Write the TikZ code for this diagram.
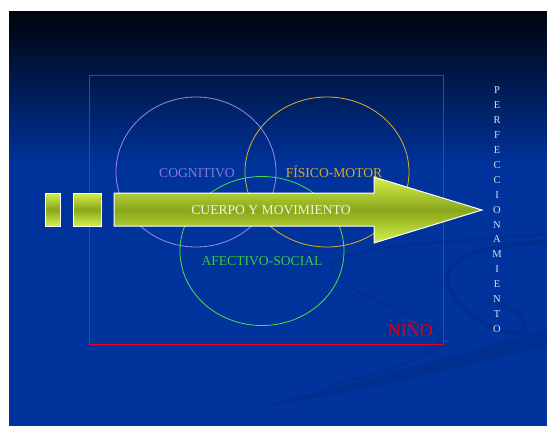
\documentclass[tikz,border=0pt]{standalone}
\usepackage{fontspec}
\setmainfont{Liberation Serif}
\usetikzlibrary{shapes.geometric}
\definecolor{bgblue}{HTML}{00339C}
\definecolor{topdark}{HTML}{00040C}
\definecolor{swooshc}{HTML}{002F90}
\definecolor{boxred}{HTML}{F00020}
\definecolor{ninored}{HTML}{E00010}
\definecolor{cogline}{HTML}{9D8BE0}
\definecolor{cogtext}{HTML}{8677D6}
\definecolor{fisline}{HTML}{E0B020}
\definecolor{fistext}{HTML}{D6A82C}
\definecolor{afeline}{HTML}{4CE04C}
\definecolor{afetext}{HTML}{3CC83C}
\definecolor{arrlight}{HTML}{D4F04A}
\definecolor{arrdark}{HTML}{8AA61C}
\definecolor{arrtext}{HTML}{F4F4DC}
\definecolor{vtext}{HTML}{D8DEF0}
\tikzset{
  circ/.style={ellipse, draw=#1, line width=0.8pt, inner sep=0pt},
  lbl/.style={text=#1, font=\fontsize{13.6}{16}\selectfont, inner sep=0pt, anchor=base},
  greenfill/.style={draw=white, line width=1pt, top color=arrlight, bottom color=arrlight, middle color=arrdark},
  swoosh/.style={draw=swooshc, line cap=round},
}
\begin{document}
\begin{tikzpicture}[x=1pt,y=-1pt]
\useasboundingbox (0,0) rectangle (547,426);
\fill[white] (0,0) rectangle (547,426);
\fill[bgblue] (9,11) rectangle (547,426);
\shade[top color=topdark, bottom color=bgblue] (9,11) rectangle (547,165);
% background swooshes
\fill[swooshc] (547,330) .. controls (450,356) and (350,386) .. (250,408)
  .. controls (360,394) and (460,366) .. (547,346) -- cycle;
\path[swoosh, line width=4pt] (547,242) .. controls (480,246) and (440,258) .. (448,285)
  .. controls (456,312) and (505,340) .. (522,332) .. controls (532,322) and (515,305) .. (490,302);
\path[swoosh, line width=3pt] (330,266) .. controls (350,246) and (420,244) .. (547,234);
\path[swoosh, line width=2pt] (330,268) .. controls (350,300) and (420,310) .. (440,335)
  .. controls (446,350) and (400,370) .. (330,385);
% box
\node[draw=boxred, line width=0.8pt, minimum width=354pt, minimum height=269pt, inner sep=0pt]
  (box) at (266.5,209.5) {};
% circles
\node[circ=cogline, minimum width=160pt, minimum height=150pt] (cog) at (196,172) {};
\node[circ=fisline, minimum width=164pt, minimum height=150pt] (fis) at (327,172) {};
\node[circ=afeline, minimum width=164pt, minimum height=149pt] (afe) at (262,251) {};
% labels
\node[lbl=cogtext] (cogl) at (197,177) {COGNITIVO};
\node[lbl=fistext] (fisl) at (334,177) {FÍSICO-MOTOR};
\node[lbl=afetext] (afel) at (262,265) {AFECTIVO-SOCIAL};
\node[text=ninored, font=\fontsize{18}{20}\selectfont, inner sep=0pt, anchor=base east] (nino) at (433,336) {NIÑO};
% arrow
\path[greenfill] (45,193) rectangle (60,226);
\path[greenfill] (73,193) rectangle (101,226);
\path[greenfill] (114,193) -- (374,193) -- (374,177) -- (482,210) -- (374,243) -- (374,226) -- (114,226) -- cycle;
\node[lbl=arrtext] (cuerpo) at (271,214) {CUERPO Y MOVIMIENTO};
% vertical word
\node[text=vtext, font=\fontsize{10.5}{14.94}\selectfont, align=center, inner sep=0pt, anchor=north]
  (perf) at (497,86.5) {P\\E\\R\\F\\E\\C\\C\\I\\O\\N\\A\\M\\I\\E\\N\\T\\O};
\end{tikzpicture}
\end{document}
